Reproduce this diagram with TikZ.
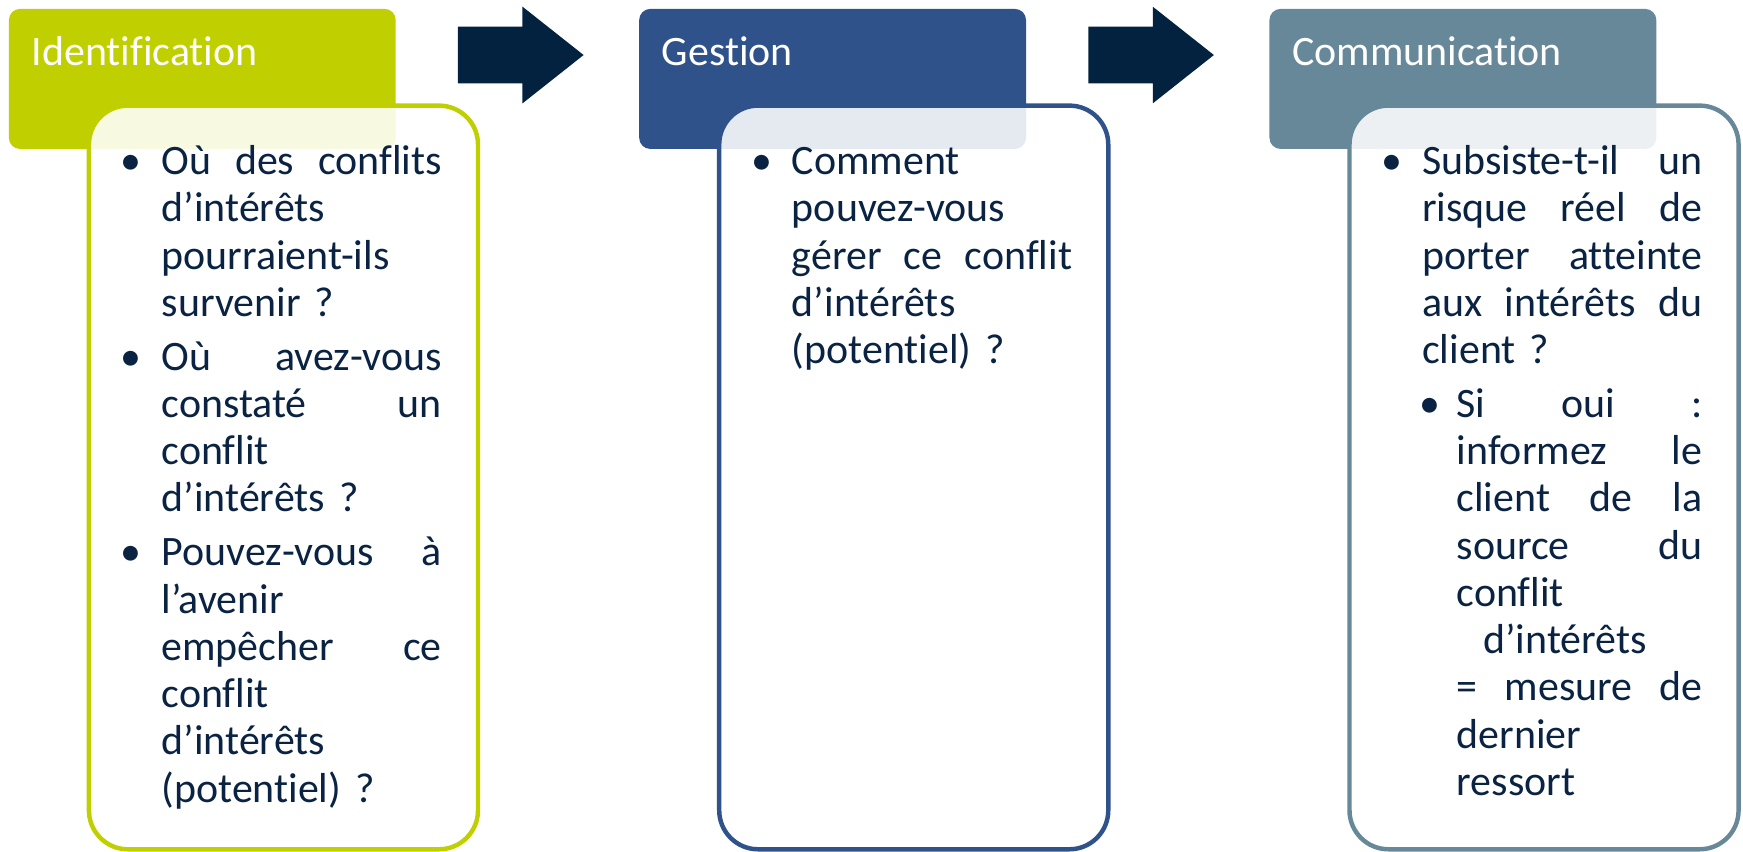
\documentclass[tikz,border=0pt]{standalone}
\usepackage{fontspec}
\setmainfont{Carlito}[Ligatures=NoCommon]
\usetikzlibrary{positioning}
\definecolor{idgreen}{HTML}{BFCF00}
\definecolor{gsblue}{HTML}{2F528B}
\definecolor{cmgrey}{HTML}{678898}
\definecolor{navy}{HTML}{03223F}
\definecolor{ink}{HTML}{0A2343}
% justified line (words split by \hfill), optional left indent
\newlength{\colw}\setlength{\colw}{126pt}
\newcommand{\jl}[2][0pt]{\hspace*{#1}\hbox to \dimexpr\colw-#1\relax{#2}}
\newcommand{\bul}{\llap{\textbullet\hspace{9pt}}}
\newcommand{\subbul}{\llap{\textbullet\hspace{7.5pt}}}
\begin{document}
\begin{tikzpicture}
	[x=0.5pt,y=-0.5pt,line join=round,
	 hdr/.style={rectangle,rounded corners=5pt,minimum width=174pt,minimum height=63pt,inner sep=0pt,outer sep=0pt,anchor=north west},
	 cbox/.style={rectangle,rounded corners=17.5pt,line width=2pt,fill=white,fill opacity=.88,minimum width=175pt,minimum height=334.5pt,inner sep=0pt,outer sep=0pt,anchor=north west},
	 ttl/.style={text=white,inner sep=0pt,anchor=base west,font=\fontsize{18.85pt}{21.25pt}\selectfont},
	 txt/.style={text=ink,inner sep=0pt,anchor=base west,text width=\colw,align=left,font=\fontsize{18.85pt}{21.25pt}\selectfont}]
	\useasboundingbox (0,0) rectangle (1568,766);
	% headers
	\node[hdr,fill=idgreen] (idbox) at (8,8) {};
	\node[hdr,fill=gsblue] (gsbox) at (575,8) {};
	\node[hdr,fill=cmgrey] (cmbox) at (1142,8) {};
	\node[ttl] (idtitle) at ([shift={(20,51)}]idbox.north west) {Identification};
	\node[ttl] (gstitle) at ([shift={(20,51)}]gsbox.north west) {Gestion};
	\node[ttl] (cmtitle) at ([shift={(20,51)}]cmbox.north west) {Communication};
	% block arrows
	\foreach \b in {idbox,gsbox}
		\fill[navy] ([shift={(56,16)}]\b.north east) -- ++(58,0) -- ++(0,-18) -- ++(55,43.5)
			-- ++(-55,43.5) -- ++(0,-18) -- ++(-58,0) -- cycle;
	% bodies
	\node[cbox,draw=idgreen] (idbody) at (80,95) {};
	\node[cbox,draw=gsblue] (gsbody) at (647,95) {};
	\node[cbox,draw=cmgrey] (cmbody) at (1214,95) {};
	\node[txt] (idtext) at ([shift={(65,62)}]idbody.north west)
		{\jl{\bul Où\hfill des\hfill conflits}\\
		 d’intérêts\\
		 pourraient-ils\\
		 survenir ?\\[3pt]
		 \jl{\bul Où\hfill avez-vous}\\
		 \jl{constaté\hfill un}\\
		 conflit\\
		 d’intérêts ?\\[3pt]
		 \jl{\bul Pouvez-vous\hfill à}\\
		 l’avenir\\
		 \jl{empêcher\hfill ce}\\
		 conflit\\
		 d’intérêts\\
		 (potentiel) ?};
	\node[txt] (gstext) at ([shift={(65,62)}]gsbody.north west)
		{\bul Comment\\
		 pouvez-vous\\
		 \jl{gérer\hfill ce\hfill conflit}\\
		 d’intérêts\\
		 (potentiel) ?};
	\node[txt] (cmtext) at ([shift={(65,62)}]cmbody.north west)
		{\jl{\bul Subsiste-t-il\hfill un}\\
		 \jl{risque\hfill réel\hfill de}\\
		 \jl{porter\hfill atteinte}\\
		 \jl{aux\hfill intérêts\hfill du}\\
		 client ?\\[3pt]
		 \jl[15.5pt]{\subbul Si\hfill oui\hfill :}\\
		 \jl[15.5pt]{informez\hfill le}\\
		 \jl[15.5pt]{client\hfill de\hfill la}\\
		 \jl[15.5pt]{source\hfill du}\\
		 \hspace*{15.5pt}conflit\\
		 \hspace*{27.5pt}d’intérêts\\
		 \jl[15.5pt]{=\hfill mesure\hfill de}\\
		 \hspace*{15.5pt}dernier\\
		 \hspace*{15.5pt}ressort};
\end{tikzpicture}
\end{document}
